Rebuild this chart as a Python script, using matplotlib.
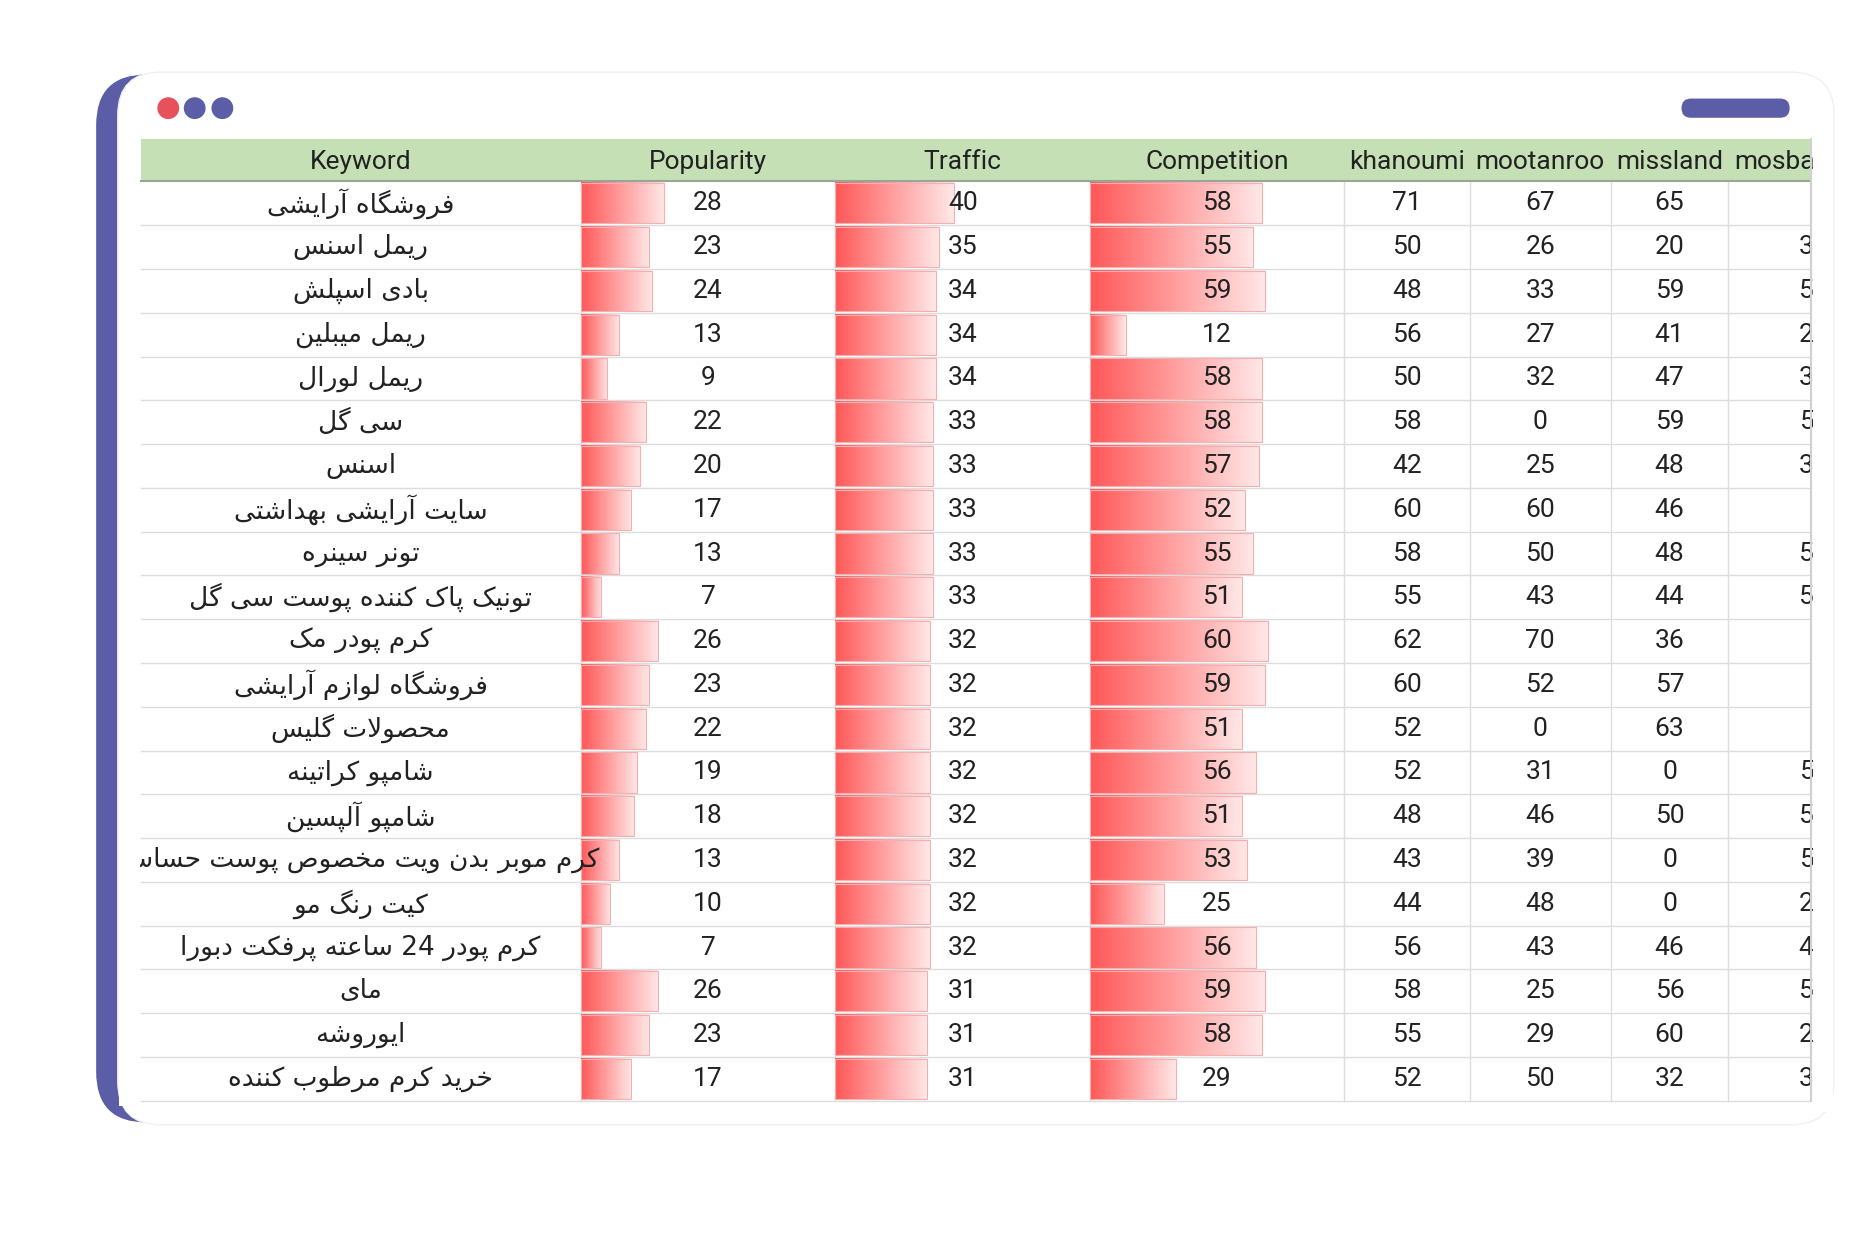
import re
import numpy as np
import matplotlib
matplotlib.use("Agg")
import matplotlib.pyplot as plt
from matplotlib.patches import FancyBboxPatch, Rectangle

keywords = ["فروشگاه آرایشی", "ریمل اسنس", "بادی اسپلش", "ریمل میبلین", "ریمل لورال", "سی گل", "اسنس",
            "سایت آرایشی بهداشتی", "تونر سینره", "تونیک پاک کننده پوست سی گل", "کرم پودر مک",
            "فروشگاه لوازم آرایشی", "محصولات گلیس", "شامپو کراتینه", "شامپو آلپسین",
            "کرم موبر بدن ویت مخصوص پوست حساس", "کیت رنگ مو", "کرم پودر 24 ساعته پرفکت دبورا",
            "مای", "ایوروشه", "خرید کرم مرطوب کننده"]
popularity = [28, 23, 24, 13, 9, 22, 20, 17, 13, 7, 26, 23, 22, 19, 18, 13, 10, 7, 26, 23, 17]
traffic = [40, 35, 34, 34, 34, 33, 33, 33, 33, 33, 32, 32, 32, 32, 32, 32, 32, 32, 31, 31, 31]
competition = [58, 55, 59, 12, 58, 58, 57, 52, 55, 51, 60, 59, 51, 56, 51, 53, 25, 56, 59, 58, 29]
khanoumi = [71, 50, 48, 56, 50, 58, 42, 60, 58, 55, 62, 60, 52, 52, 48, 43, 44, 56, 58, 55, 52]
mootanroo = [67, 26, 33, 27, 32, 0, 25, 60, 50, 43, 70, 52, 0, 31, 46, 39, 48, 43, 25, 29, 50]
missland = [65, 20, 59, 41, 47, 59, 48, 46, 48, 44, 36, 57, 63, 0, 50, 0, 0, 46, 56, 60, 32]
mosba = [0, 35, 52, 28, 38, 55, 37, 0, 52, 54, 0, 0, 0, 55, 52, 57, 29, 46, 53, 27, 38]
headers = ["Keyword", "Popularity", "Traffic", "Competition", "khanoumi", "mootanroo", "missland", "mosbat"]

# --- minimal Persian shaping ---
F = {
 'ا': ('\uFE8D', '\uFE8E', None, None), 'آ': ('\uFE81', '\uFE82', None, None),
 'ب': ('\uFE8F', '\uFE90', '\uFE91', '\uFE92'), 'پ': ('\uFB56', '\uFB57', '\uFB58', '\uFB59'),
 'ت': ('\uFE95', '\uFE96', '\uFE97', '\uFE98'), 'ث': ('\uFE99', '\uFE9A', '\uFE9B', '\uFE9C'),
 'ج': ('\uFE9D', '\uFE9E', '\uFE9F', '\uFEA0'), 'چ': ('\uFB7A', '\uFB7B', '\uFB7C', '\uFB7D'),
 'ح': ('\uFEA1', '\uFEA2', '\uFEA3', '\uFEA4'), 'خ': ('\uFEA5', '\uFEA6', '\uFEA7', '\uFEA8'),
 'د': ('\uFEA9', '\uFEAA', None, None), 'ذ': ('\uFEAB', '\uFEAC', None, None),
 'ر': ('\uFEAD', '\uFEAE', None, None), 'ز': ('\uFEAF', '\uFEB0', None, None),
 'ژ': ('\uFB8A', '\uFB8B', None, None),
 'س': ('\uFEB1', '\uFEB2', '\uFEB3', '\uFEB4'), 'ش': ('\uFEB5', '\uFEB6', '\uFEB7', '\uFEB8'),
 'ص': ('\uFEB9', '\uFEBA', '\uFEBB', '\uFEBC'), 'ض': ('\uFEBD', '\uFEBE', '\uFEBF', '\uFEC0'),
 'ط': ('\uFEC1', '\uFEC2', '\uFEC3', '\uFEC4'), 'ظ': ('\uFEC5', '\uFEC6', '\uFEC7', '\uFEC8'),
 'ع': ('\uFEC9', '\uFECA', '\uFECB', '\uFECC'), 'غ': ('\uFECD', '\uFECE', '\uFECF', '\uFED0'),
 'ف': ('\uFED1', '\uFED2', '\uFED3', '\uFED4'), 'ق': ('\uFED5', '\uFED6', '\uFED7', '\uFED8'),
 'ک': ('\uFB8E', '\uFB8F', '\uFB90', '\uFB91'), 'گ': ('\uFB92', '\uFB93', '\uFB94', '\uFB95'),
 'ل': ('\uFEDD', '\uFEDE', '\uFEDF', '\uFEE0'), 'م': ('\uFEE1', '\uFEE2', '\uFEE3', '\uFEE4'),
 'ن': ('\uFEE5', '\uFEE6', '\uFEE7', '\uFEE8'), 'و': ('\uFEED', '\uFEEE', None, None),
 'ه': ('\uFEE9', '\uFEEA', '\uFEEB', '\uFEEC'), 'ی': ('\uFBFC', '\uFBFD', '\uFBFE', '\uFBFF'),
}

def shape(s):
    s = s.replace('لا', '\x01')
    out = []
    for i, c in enumerate(s):
        if c == '\x01':
            prev = s[i-1] if i > 0 else ''
            jp = prev in F and F[prev][2] is not None
            out.append('\uFEFC' if jp else '\uFEFB')
            continue
        if c not in F:
            out.append(c); continue
        prev = s[i-1] if i > 0 else ''
        nxt = s[i+1] if i + 1 < len(s) else ''
        jp = prev in F and F[prev][2] is not None
        jn = (nxt in F or nxt == '\x01') and F[c][2] is not None
        iso, fin, ini, med = F[c]
        if jp and jn: out.append(med)
        elif jp: out.append(fin)
        elif jn: out.append(ini)
        else: out.append(iso)
    r = ''.join(out)[::-1]
    return re.sub(r'\d+', lambda m: m.group(0)[::-1], r)

W, H = 1560, 1026
fig = plt.figure(figsize=(18.75, 12.33), dpi=100)
ax = fig.add_axes([0, 0, 1, 1])
ax.set_xlim(0, W); ax.set_ylim(H, 0); ax.axis('off')

FS = 19
# card
ax.add_patch(FancyBboxPatch((80, 62), 1444, 872, boxstyle="round,pad=0,rounding_size=42",
                            fc='#5b5ea6', ec='none', zorder=0))
ax.add_patch(FancyBboxPatch((98, 60), 1428, 876, boxstyle="round,pad=0,rounding_size=36",
                            fc='white', ec='#f0f0f0', lw=1, zorder=1))
for x, c in [(140, '#e8505b'), (162, '#5b5ea6'), (185, '#5b5ea6')]:
    ax.add_patch(plt.Circle((x, 90), 8.5, color=c, zorder=3))
ax.add_patch(FancyBboxPatch((1399, 82), 90, 16, boxstyle="round,pad=0,rounding_size=8",
                            fc='#5b5ea6', ec='none', zorder=3))

x0, x1 = 117, 1507
cols = [117, 483, 695, 907, 1118, 1223, 1340, 1438, 1560]
hy0, hy1 = 116, 151
rh = (916 - hy1) / 21.0

ax.add_patch(Rectangle((x0, hy0), x1 - x0, hy1 - hy0, fc='#c5e0b4', ec='none', zorder=2))
ax.plot([x0, x1], [hy1, hy1], color='#9aa59a', lw=1.5, zorder=4)
for i, h in enumerate(headers):
    cx = (cols[i] + cols[i+1]) / 2 if i < 7 else 1443
    ax.text(cx, (hy0 + hy1) / 2 + 1, h, ha='center' if i < 7 else 'left', va='center',
            fontsize=FS, family='Roboto', color='#222222', zorder=5)

for r in range(21):
    y = hy1 + r * rh
    ax.plot([x0, x1], [y + rh, y + rh], color='#dddddd', lw=1, zorder=2)
for c in cols[1:8]:
    ax.plot([c, c], [hy1, 916], color='#dddddd', lw=1, zorder=2)

grad = np.linspace(0, 1, 256).reshape(1, -1)
cmap = matplotlib.colors.LinearSegmentedColormap.from_list('g', ['#ff5757', '#ffe8e8'])
scale = 2.47
for ci, vals in [(1, popularity), (2, traffic), (3, competition)]:
    for r, v in enumerate(vals):
        y = hy1 + r * rh
        bx = cols[ci]
        ax.imshow(grad, extent=(bx, bx + v * scale, y + rh - 1.5, y + 1.5), cmap=cmap,
                  aspect='auto', zorder=3, interpolation='bilinear')
        ax.add_patch(Rectangle((bx, y + 1.5), v * scale, rh - 3, fc='none', ec='#f4b0b0', lw=0.8, zorder=3.5))
        ax.text((cols[ci] + cols[ci+1]) / 2, y + rh / 2, str(v), ha='center', va='center',
                fontsize=FS, family='Roboto', color='#222222', zorder=5)

for r in range(21):
    y = hy1 + r * rh + rh / 2
    ax.text((cols[0] + cols[1]) / 2, y, shape(keywords[r]), ha='center', va='center',
            fontsize=FS, family='DejaVu Sans', color='#222222', zorder=5)
    for ci, vals in [(4, khanoumi), (5, mootanroo), (6, missland)]:
        ax.text((cols[ci] + cols[ci+1]) / 2, y, str(vals[r]), ha='center', va='center',
                fontsize=FS, family='Roboto', color='#222222', zorder=5)
    ax.text(1521, y, str(mosba[r]), ha='right', va='center', fontsize=FS,
            family='Roboto', color='#222222', zorder=5)

# masks clipping the table to its viewport
ax.add_patch(Rectangle((1508, 105), 17, 820, fc='white', ec='none', zorder=6))
ax.plot([1507, 1507], [hy0, 916], color='#d0d0d0', lw=1.5, zorder=7)
ax.add_patch(Rectangle((99, 150), 17.5, 770, fc='white', ec='none', zorder=6))

fig.savefig('out.png', dpi=100, facecolor='white')
